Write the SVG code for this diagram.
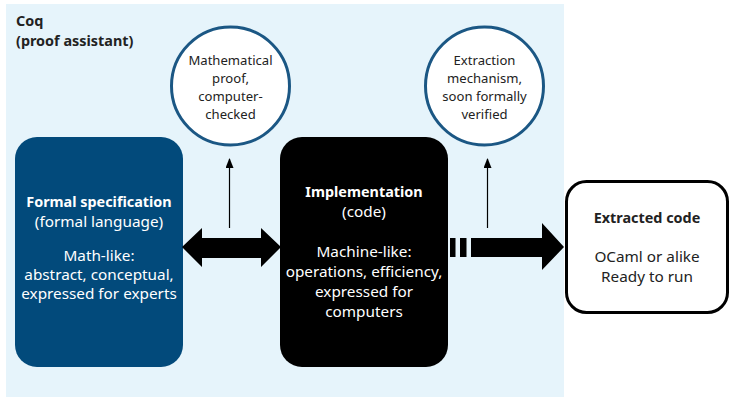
<svg xmlns="http://www.w3.org/2000/svg" width="730" height="398" viewBox="0 0 730 398">
<defs>
<style>
text{font-family:"Noto Sans","Open Sans",sans-serif;font-size:15.3px;text-anchor:middle}
.b{font-weight:bold;font-size:14.4px}
.c{font-size:13.1px}
.dk{fill:#222}
.wt{fill:#fff}
.circ{fill:#fff;stroke:#1b5784;stroke-width:3}
.thin{stroke:#000;stroke-width:1.2;fill:none}
</style>
<marker id="ah" markerWidth="10" markerHeight="8" refX="9" refY="4" orient="auto" markerUnits="userSpaceOnUse" viewBox="0 0 10 8">
<path d="M0,0 L10,4 L0,8 Z" fill="#000"/>
</marker>
</defs>
<rect x="0" y="0" width="730" height="398" fill="#fff"/>
<g id="coq">
<rect x="6" y="4" width="558" height="393" fill="#e6f4fb"/>
<text x="16" y="26" class="b dk" style="text-anchor:start">Coq</text>
<text x="16" y="46" class="b dk" style="text-anchor:start">(proof assistant)</text>
</g>
<g id="spec">
<rect x="15" y="137" width="168" height="230" rx="22" fill="#024a7b"/>
<text x="99" y="207" class="b wt">Formal specification</text>
<text x="99" y="227" class="wt">(formal language)</text>
<text x="99" y="261" class="wt">Math-like:</text>
<text x="99" y="280" class="wt">abstract, conceptual,</text>
<text x="99" y="299" class="wt">expressed for experts</text>
</g>
<g id="impl">
<rect x="280" y="137" width="168" height="230" rx="22" fill="#000"/>
<text x="364" y="197" class="b wt">Implementation</text>
<text x="364" y="217" class="wt">(code)</text>
<text x="364" y="257" class="wt">Machine-like:</text>
<text x="364" y="277" class="wt">operations, efficiency,</text>
<text x="364" y="297" class="wt">expressed for</text>
<text x="364" y="317" class="wt">computers</text>
</g>
<g id="extracted">
<rect x="566.5" y="181.5" width="161" height="131" rx="20" fill="#fff" stroke="#000" stroke-width="3"/>
<text x="647" y="223" class="b dk">Extracted code</text>
<text x="647" y="262" class="dk">OCaml or alike</text>
<text x="647" y="282" class="dk">Ready to run</text>
</g>
<g id="proof">
<circle cx="230.5" cy="86" r="59" class="circ"/>
<text x="230.5" y="65" class="c dk">Mathematical</text>
<text x="230.5" y="83" class="c dk">proof,</text>
<text x="230.5" y="101" class="c dk">computer-</text>
<text x="230.5" y="119" class="c dk">checked</text>
</g>
<g id="mechanism">
<circle cx="484.5" cy="86" r="59" class="circ"/>
<text x="484.5" y="65" class="c dk">Extraction</text>
<text x="484.5" y="83" class="c dk">mechanism,</text>
<text x="484.5" y="101" class="c dk">soon formally</text>
<text x="484.5" y="119" class="c dk">verified</text>
</g>
<g id="connectors">
<path d="M182,247 L202,228 L202,238 L261,238 L261,228 L281,247 L261,267 L261,258 L202,258 L202,267 Z" fill="#000"/>
<rect x="450" y="238" width="5.5" height="19" fill="#000"/>
<rect x="460" y="238" width="6.5" height="19" fill="#000"/>
<path d="M471,238 L542,238 L542,223 L564,247 L542,270 L542,257 L471,257 Z" fill="#000"/>
<line x1="229.5" y1="228" x2="229.5" y2="159" class="thin" marker-end="url(#ah)"/>
<line x1="487.5" y1="228" x2="487.5" y2="159" class="thin" marker-end="url(#ah)"/>
</g>
</svg>
